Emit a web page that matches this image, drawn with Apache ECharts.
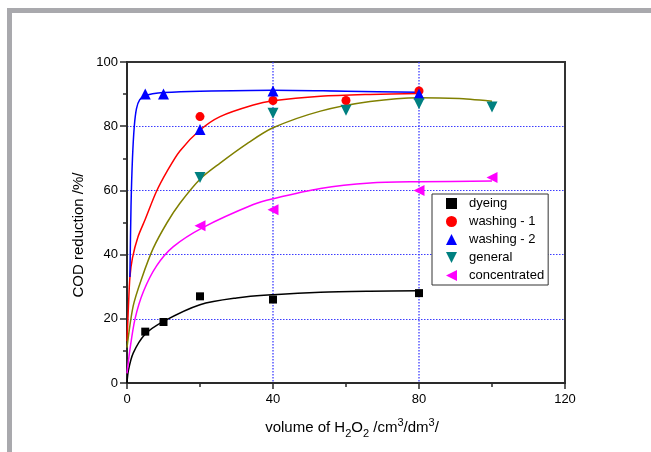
<!DOCTYPE html>
<html>
<head>
<meta charset="utf-8">
<script src="https://cdn.jsdelivr.net/npm/echarts@6/dist/echarts.min.js"></script>
<style>
html,body{margin:0;padding:0;background:#fff;}
#chart{width:651px;height:452px;}
</style>
</head>
<body>
<div id="chart"></div>
<script>
// Tick values
const xTicks = [0, 40, 80, 120];
const yTicks = [0, 20, 40, 60, 80, 100];

// Measured points [volume, COD reduction]
const dyeing       = [[5,16],[10,19],[20,27],[40,26],[80,28]];
const washing1     = [[20,83],[40,88],[60,88],[80,91]];
const washing2     = [[5,90],[10,90],[20,79],[40,91],[80,90]];
const general      = [[20,64],[40,84],[60,85],[80,87],[100,86]];
const concentrated = [[20,49],[40,54],[80,60],[100,64]];

// Fitted curves
const dyeingFit = [[0,0],[0.4,4],[1.7,9.3],[4.9,15.1],[10,19.2],[20,24.4],[30,26.5],[40,27.5],[53,28.3],[66.6,28.6],[80,28.7]];
const washing1Fit = [[0,13],[0.4,24],[0.8,33],[1.5,39],[3,45.5],[5,51],[8,59.5],[11,66],[14.5,72.3],[20,78.8],[25.5,83],[34.6,86.6],[40,87.9],[53,89.3],[66.6,89.9],[80,90.2]];
const washing2Fit = [[0.8,33],[1.1,55],[1.5,70],[2,80],[2.6,85.5],[3.5,88.3],[5,89.5],[7,90.1],[10,90.5],[20,90.9],[40,91.2],[60,90.9],[80,90.6]];
const generalFit = [[0,11],[1.7,24],[4,32.5],[7.2,42],[11,50],[14.5,56],[20,63.5],[25.5,68.5],[32.8,74.5],[40,79.5],[53,84.7],[66.6,87.7],[80,88.9],[91,88.6],[100,87.8]];
const concentratedFit = [[0,3],[0.8,10.4],[2.2,20],[4.5,28.5],[8.1,36.5],[12.7,42.5],[20.9,48.5],[34.6,55.6],[40,57.4],[53,60.6],[66.6,62.3],[80,62.7],[100,62.9]];

const FONT = 'Liberation Sans, Arial, sans-serif';

const chart = echarts.init(document.getElementById('chart'), null, {renderer: 'canvas'});

function fitLine(name, data, color) {
  return {
    name: name, type: 'line', data: data, showSymbol: false, symbol: 'none',
    smooth: 0.3,
    lineStyle: {color: color, width: 1.5}, z: 2, silent: true
  };
}
function pts(name, data, symbol, size, color, rot) {
  return {
    name: name, type: 'scatter', data: data, symbol: symbol, symbolSize: size,
    symbolRotate: rot || 0,
    itemStyle: {color: color, opacity: 1}, z: 4
  };
}

const gridLineStyleX = {color: '#3a3aff', type: [1.5, 1.5], width: 1.6, opacity: 0.8};
const gridLineStyleY = {color: '#1a1aff', type: [1.5, 1.5], width: 1.2, opacity: 0.85};

const option = {
  animation: false,
  backgroundColor: '#ffffff',
  grid: {left: 127, right: 86, top: 62, bottom: 69, containLabel: false,
         show: true, borderColor: '#333', borderWidth: 2, backgroundColor: 'transparent'},
  xAxis: {
    type: 'value', min: xTicks[0], max: xTicks[xTicks.length-1], interval: 40,
    axisLine: {show: true, onZero: false, lineStyle: {color: '#2a2a2a', width: 2}},
    axisTick: {show: true, length: 6, lineStyle: {color: '#2a2a2a', width: 1.5}},
    minorTick: {show: true, splitNumber: 2, length: 4, lineStyle: {color: '#2a2a2a', width: 1.5}},
    axisLabel: {color: '#000', fontFamily: FONT, fontSize: 13, margin: 10},
    splitLine: {show: true, showMinLine: false, showMaxLine: false, lineStyle: gridLineStyleX},
    minorSplitLine: {show: false}
  },
  yAxis: {
    type: 'value', min: yTicks[0], max: yTicks[yTicks.length-1], interval: 20,
    axisLine: {show: true, onZero: false, lineStyle: {color: '#2a2a2a', width: 2}},
    axisTick: {show: true, length: 7, lineStyle: {color: '#2a2a2a', width: 1.5}},
    minorTick: {show: true, splitNumber: 2, length: 4, lineStyle: {color: '#2a2a2a', width: 1.5}},
    axisLabel: {color: '#000', fontFamily: FONT, fontSize: 13, margin: 9},
    splitLine: {show: true, showMinLine: false, showMaxLine: false, lineStyle: gridLineStyleY},
    minorSplitLine: {show: false}
  },
  legend: {
    show: true, orient: 'vertical', left: 432, top: 194,
    data: [
      {name: 'dyeing', icon: 'path://M0,0L10,0L10,10L0,10Z'},
      {name: 'washing - 1', icon: 'circle'},
      {name: 'washing - 2', icon: 'path://M5,0L10,10L0,10Z'},
      {name: 'general', icon: 'path://M0,0L10,0L5,10Z'},
      {name: 'concentrated', icon: 'path://M0,5L10,0L10,10Z'}
    ],
    itemWidth: 11, itemHeight: 11, itemGap: 5,
    padding: [3, 4, 3, 14],
    borderColor: '#333', borderWidth: 1, borderRadius: 0,
    backgroundColor: '#fff',
    textStyle: {color: '#000', fontFamily: FONT, fontSize: 13, padding: [0, 0, 0, 7]},
    selectedMode: false
  },
  series: [
    fitLine('dyeing fit', dyeingFit, '#000000'),
    fitLine('washing - 1 fit', washing1Fit, '#ff0000'),
    fitLine('washing - 2 fit', washing2Fit, '#0000ff'),
    fitLine('general fit', generalFit, '#808000'),
    fitLine('concentrated fit', concentratedFit, '#ff00ff'),
    pts('dyeing', dyeing, 'rect', 8, '#000000'),
    pts('washing - 1', washing1, 'circle', 9, '#ff0000'),
    pts('washing - 2', washing2, 'triangle', 11, '#0000ff'),
    pts('general', general, 'triangle', 11, '#008080', 180),
    pts('concentrated', concentrated, 'triangle', 11, '#ff00ff', 90)
  ],
  graphic: [
    {type: 'rect', shape: {x: 7, y: 8, width: 644, height: 5}, style: {fill: '#a9a9ad'}, silent: true},
    {type: 'rect', shape: {x: 7, y: 8, width: 5, height: 444}, style: {fill: '#a9a9ad'}, silent: true},
    {type: 'text', x: 79, y: 235, rotation: Math.PI / 2,
     style: {text: 'COD reduction /%/', fontFamily: FONT, fontSize: 15, fill: '#000', align: 'center', verticalAlign: 'middle'}},
    {type: 'text', x: 352, y: 428,
     style: {
       text: 'volume of H{sub|2}O{sub|2} /cm{sup|3}/dm{sup|3}/',
       fontFamily: FONT, fontSize: 15, lineHeight: 22, fill: '#000', align: 'center', verticalAlign: 'middle',
       rich: {
         sub: {fontFamily: FONT, fontSize: 11, lineHeight: 11, verticalAlign: 'bottom', fill: '#000'},
         sup: {fontFamily: FONT, fontSize: 11, lineHeight: 11, verticalAlign: 'top', fill: '#000'}
       }
     }}
  ]
};
chart.setOption(option);
</script>
</body>
</html>
